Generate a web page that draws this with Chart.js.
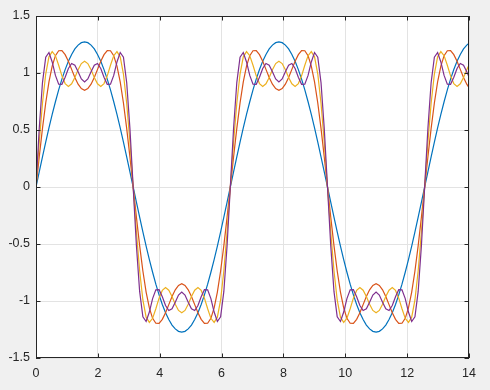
<!DOCTYPE html>
<html>
<head>
<meta charset="utf-8">
<script src="https://cdn.jsdelivr.net/npm/chart.js@4.4.0/dist/chart.umd.min.js"></script>
<style>
html,body{margin:0;padding:0;background:#f0f0f0;}
#c{display:block;}
</style>
</head>
<body>
<canvas id="c" width="490" height="390"></canvas>
<script>
// x samples
const xs = [0,0.1047,0.2094,0.3142,0.4189,0.5236,0.6283,0.7330,0.8378,0.9425,1.0472,1.1519,1.2566,1.3614,1.4661,1.5708,1.6755,1.7802,1.8850,1.9897,2.0944,2.1991,2.3038,2.4086,2.5133,2.6180,2.7227,2.8274,2.9322,3.0369,
3.1416,3.2463,3.3510,3.4558,3.5605,3.6652,3.7699,3.8746,3.9794,4.0841,4.1888,4.2935,4.3982,4.5029,4.6077,4.7124,4.8171,4.9218,5.0265,5.1313,5.2360,5.3407,5.4454,5.5501,5.6549,5.7596,5.8643,5.9690,6.0737,6.1785,
6.2832,6.3879,6.4926,6.5973,6.7021,6.8068,6.9115,7.0162,7.1209,7.2257,7.3304,7.4351,7.5398,7.6445,7.7493,7.8540,7.9587,8.0634,8.1681,8.2729,8.3776,8.4823,8.5870,8.6917,8.7965,8.9012,9.0059,9.1106,9.2153,9.3201,
9.4248,9.5295,9.6342,9.7389,9.8437,9.9484,10.0531,10.1578,10.2625,10.3673,10.4720,10.5767,10.6814,10.7861,10.8909,10.9956,11.1003,11.2050,11.3097,11.4145,11.5192,11.6239,11.7286,11.8333,11.9381,12.0428,12.1475,12.2522,12.3569,12.4617,
12.5664,12.6711,12.7758,12.8805,12.9852,13.0900,13.1947,13.2994,13.4041,13.5088,13.6136,13.7183,13.8230,13.9277,14];

const blue = [0,0.133,0.265,0.393,0.518,0.637,0.748,0.852,0.946,1.030,1.103,1.163,1.211,1.245,1.266,1.273,1.266,1.245,1.211,1.163,1.103,1.030,0.946,0.852,0.748,0.637,0.518,0.393,0.265,0.133,
0,-0.133,-0.265,-0.393,-0.518,-0.637,-0.748,-0.852,-0.946,-1.030,-1.103,-1.163,-1.211,-1.245,-1.266,-1.273,-1.266,-1.245,-1.211,-1.163,-1.103,-1.030,-0.946,-0.852,-0.748,-0.637,-0.518,-0.393,-0.265,-0.133,
0,0.133,0.265,0.393,0.518,0.637,0.748,0.852,0.946,1.030,1.103,1.163,1.211,1.245,1.266,1.273,1.266,1.245,1.211,1.163,1.103,1.030,0.946,0.852,0.748,0.637,0.518,0.393,0.265,0.133,
0,-0.133,-0.265,-0.393,-0.518,-0.637,-0.748,-0.852,-0.946,-1.030,-1.103,-1.163,-1.211,-1.245,-1.266,-1.273,-1.266,-1.245,-1.211,-1.163,-1.103,-1.030,-0.946,-0.852,-0.748,-0.637,-0.518,-0.393,-0.265,-0.133,
0,0.133,0.265,0.393,0.518,0.637,0.748,0.852,0.946,1.030,1.103,1.163,1.211,1.245,1.261];

const red = [0,0.264,0.514,0.737,0.922,1.061,1.152,1.195,1.196,1.161,1.103,1.032,0.961,0.902,0.863,0.849,0.863,0.902,0.961,1.032,1.103,1.161,1.196,1.195,1.152,1.061,0.922,0.737,0.514,0.264,
0,-0.264,-0.514,-0.737,-0.922,-1.061,-1.152,-1.195,-1.196,-1.161,-1.103,-1.032,-0.961,-0.902,-0.863,-0.849,-0.863,-0.902,-0.961,-1.032,-1.103,-1.161,-1.196,-1.195,-1.152,-1.061,-0.922,-0.737,-0.514,-0.264,
0,0.264,0.514,0.737,0.922,1.061,1.152,1.195,1.196,1.161,1.103,1.032,0.961,0.902,0.863,0.849,0.863,0.902,0.961,1.032,1.103,1.161,1.196,1.195,1.152,1.061,0.922,0.737,0.514,0.264,
0,-0.264,-0.514,-0.737,-0.922,-1.061,-1.152,-1.195,-1.196,-1.161,-1.103,-1.032,-0.961,-0.902,-0.863,-0.849,-0.863,-0.902,-0.961,-1.032,-1.103,-1.161,-1.196,-1.195,-1.152,-1.061,-0.922,-0.737,-0.514,-0.264,
0,0.264,0.514,0.737,0.922,1.061,1.152,1.195,1.196,1.161,1.103,1.032,0.961,0.902,0.872];

const yellow = [0,0.392,0.735,0.991,1.142,1.188,1.152,1.068,0.975,0.907,0.882,0.905,0.961,1.029,1.083,1.103,1.083,1.029,0.961,0.905,0.882,0.907,0.975,1.068,1.152,1.188,1.142,0.991,0.735,0.392,
0,-0.392,-0.735,-0.991,-1.142,-1.188,-1.152,-1.068,-0.975,-0.907,-0.882,-0.905,-0.961,-1.029,-1.083,-1.103,-1.083,-1.029,-0.961,-0.905,-0.882,-0.907,-0.975,-1.068,-1.152,-1.188,-1.142,-0.991,-0.735,-0.392,
0,0.392,0.735,0.991,1.142,1.188,1.152,1.068,0.975,0.907,0.882,0.905,0.961,1.029,1.083,1.103,1.083,1.029,0.961,0.905,0.882,0.907,0.975,1.068,1.152,1.188,1.142,0.991,0.735,0.392,
0,-0.392,-0.735,-0.991,-1.142,-1.188,-1.152,-1.068,-0.975,-0.907,-0.882,-0.905,-0.961,-1.029,-1.083,-1.103,-1.083,-1.029,-0.961,-0.905,-0.882,-0.907,-0.975,-1.068,-1.152,-1.188,-1.142,-0.991,-0.735,-0.392,
0,0.392,0.735,0.991,1.142,1.188,1.152,1.068,0.975,0.907,0.882,0.905,0.961,1.029,1.069];

const purple = [0,0.513,0.916,1.139,1.180,1.097,0.979,0.902,0.901,0.963,1.040,1.083,1.068,1.010,0.948,0.922,0.948,1.010,1.068,1.083,1.040,0.963,0.901,0.902,0.979,1.097,1.180,1.139,0.916,0.513,
0,-0.513,-0.916,-1.139,-1.180,-1.097,-0.979,-0.902,-0.901,-0.963,-1.040,-1.083,-1.068,-1.010,-0.948,-0.922,-0.948,-1.010,-1.068,-1.083,-1.040,-0.963,-0.901,-0.902,-0.979,-1.097,-1.180,-1.139,-0.916,-0.513,
0,0.513,0.916,1.139,1.180,1.097,0.979,0.902,0.901,0.963,1.040,1.083,1.068,1.010,0.948,0.922,0.948,1.010,1.068,1.083,1.040,0.963,0.901,0.902,0.979,1.097,1.180,1.139,0.916,0.513,
0,-0.513,-0.916,-1.139,-1.180,-1.097,-0.979,-0.902,-0.901,-0.963,-1.040,-1.083,-1.068,-1.010,-0.948,-0.922,-0.948,-1.010,-1.068,-1.083,-1.040,-0.963,-0.901,-0.902,-0.979,-1.097,-1.180,-1.139,-0.916,-0.513,
0,0.513,0.916,1.139,1.180,1.097,0.979,0.902,0.901,0.963,1.040,1.083,1.068,1.010,0.965];

const xTickValues = [0,2,4,6,8,10,12,14];
const xTickLabels = ['0','2','4','6','8','10','12','14'];
const yTickValues = [-1.5,-1,-0.5,0,0.5,1,1.5];
const yTickLabels = ['-1.5','-1','-0.5','0','0.5','1','1.5'];

const seriesColors = ['#0072BD','#D95319','#EDB120','#7E2F8E'];
const seriesValues = [blue, red, yellow, purple];

const toPts = ys => ys.map((y,i) => ({x: xs[i], y: y}));

const AXIS = '#262626';
const insideTicks = {
  id: 'insideTicks',
  afterDraw(chart) {
    const {ctx, chartArea: a, scales} = chart;
    ctx.save();
    ctx.strokeStyle = AXIS;
    ctx.lineWidth = 1;
    ctx.beginPath();
    const L = 4.5;
    xTickValues.forEach(v => {
      const px = Math.round(scales.x.getPixelForValue(v)) + 0.5;
      ctx.moveTo(px, a.bottom); ctx.lineTo(px, a.bottom - L);
      ctx.moveTo(px, a.top); ctx.lineTo(px, a.top + L);
    });
    yTickValues.forEach(v => {
      const py = Math.round(scales.y.getPixelForValue(v)) + 0.5;
      ctx.moveTo(a.left, py); ctx.lineTo(a.left + L, py);
      ctx.moveTo(a.right, py); ctx.lineTo(a.right - L, py);
    });
    ctx.stroke();
    ctx.strokeRect(a.left + 0.5, a.top + 0.5, a.right - a.left - 1, a.bottom - a.top - 1);
    ctx.restore();
  }
};
const bgPlugin = {
  id: 'bg',
  beforeDraw(chart) {
    const {ctx, chartArea: a} = chart;
    ctx.save();
    ctx.fillStyle = '#f0f0f0';
    ctx.fillRect(0, 0, chart.width, chart.height);
    ctx.fillStyle = '#ffffff';
    ctx.fillRect(a.left, a.top, a.right - a.left, a.bottom - a.top);
    ctx.restore();
  }
};

const font = {family: '"Liberation Sans", Arial, Helvetica, sans-serif', size: 12.5};

new Chart(document.getElementById('c'), {
  type: 'line',
  data: {
    datasets: seriesValues.map((ys, i) => ({
      data: toPts(ys),
      borderColor: seriesColors[i],
      borderWidth: 1.2,
      pointRadius: 0,
      tension: 0,
      fill: false,
      order: 4 - i
    }))
  },
  options: {
    responsive: false,
    animation: false,
    devicePixelRatio: 1,
    layout: {padding: {top: 16, right: 21, left: 0, bottom: 0}},
    plugins: {legend: {display: false}, tooltip: {enabled: false}},
    scales: {
      x: {
        type: 'linear', min: 0, max: 14,
        afterBuildTicks: s => { s.ticks = xTickValues.map(v => ({value: v})); },
        afterFit: s => { s.height = 32; },
        ticks: {color: AXIS, font: font, padding: 8, maxRotation: 0,
                callback: (v) => xTickLabels[xTickValues.indexOf(v)]},
        grid: {color: '#e3e3e3', drawTicks: false, lineWidth: 1},
        border: {display: false}
      },
      y: {
        type: 'linear', min: -1.5, max: 1.5,
        afterBuildTicks: s => { s.ticks = yTickValues.map(v => ({value: v})); },
        afterFit: s => { s.width = 36; },
        ticks: {color: AXIS, font: font, padding: 6,
                callback: (v) => yTickLabels[yTickValues.indexOf(v)]},
        grid: {color: '#e3e3e3', drawTicks: false, lineWidth: 1},
        border: {display: false}
      }
    }
  },
  plugins: [bgPlugin, insideTicks]
});
</script>
</body>
</html>
